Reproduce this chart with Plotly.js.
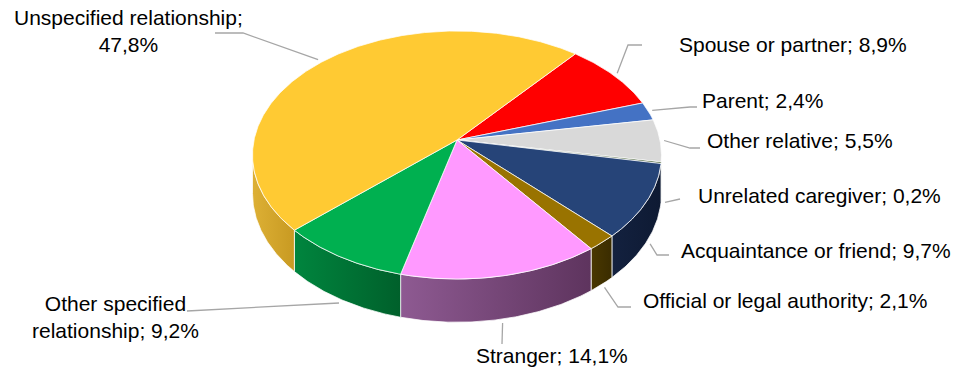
<!DOCTYPE html>
<html>
<head>
<meta charset="utf-8">
<script src="https://cdn.plot.ly/plotly-3.0.1.min.js"></script>
<style>html,body{margin:0;padding:0;background:#fff;}#chart{width:955px;height:374px;}</style>
</head>
<body>
<div id="chart"></div>
<script>
// ---- data ----
const categories = ['Spouse or partner', 'Parent', 'Other relative', 'Unrelated caregiver',
  'Acquaintance or friend', 'Official or legal authority', 'Stranger',
  'Other specified relationship', 'Unspecified relationship'];
const shares = [8.9, 2.4, 5.5, 0.2, 9.7, 2.1, 14.1, 9.2, 47.8];
const labelTexts = ['Spouse or partner; 8,9%', 'Parent; 2,4%', 'Other relative; 5,5%',
  'Unrelated caregiver; 0,2%', 'Acquaintance or friend; 9,7%', 'Official or legal authority; 2,1%',
  'Stranger; 14,1%', 'Other specified<br>relationship; 9,2%', 'Unspecified relationship;<br>47,8%'];

// ---- styles ----
const topColors = ['#FF0000', '#4472C4', '#D9D9D9', '#2E4A1C', '#264478', '#997300', '#FF99FF', '#00B050', '#FFCA33'];
const sideColors = [['#B00000','#B00000'], ['#2F5597','#2F5597'], ['#A6A6A6','#A6A6A6'], ['#1E3311','#1E3311'],
  ['#13213F','#0E1A33'], ['#4A3800','#3A2C00'], ['#8E5A92','#5E345E'], ['#00853E','#00602B'], ['#DDB035','#C89A22']];
// label layout: [x, y, xanchor] and leader-line bends
const labelPos = [[677,44,'left'], [700,100,'left'], [705,140,'left'], [696,195,'left'], [679,250,'left'],
  [641,300,'left'], [552,355,'center'], [115,317,'center'], [128,31,'center']];
const leaderBends = [[[628,45],[642,45]], [[690,107],[697,107]], [[690,148],[700,148]], [[680,199]],
  [[657,255],[669,255]], [[618,307],[631,307]], [[502,344]], [[187,311]], [[243,33],[215,33]]];

// ---- geometry (pseudo-3D pie projected onto pixel axes) ----
const G = {cx: 457, cy: 140, A: 203, B: 122.2, p: 0.121, D: 38, start: -50.4};
function proj(th, drop) {
  const r = th * Math.PI / 180, u = Math.cos(r), v = Math.sin(r), f = 1 / (1 - G.p * v);
  return [G.cx + G.A * u * f, G.cy + G.B * v * f + (drop ? G.D * f : 0)];
}
function arc(a0, a1, drop) {
  const n = Math.max(2, Math.ceil(Math.abs(a1 - a0) / 0.5));
  const pts = [];
  for (let i = 0; i <= n; i++) pts.push(proj(a0 + (a1 - a0) * i / n, drop));
  return pts;
}
const total = shares.reduce((a, b) => a + b, 0);
const bounds = [];
let acc = G.start;
shares.forEach(s => { const a0 = acc; acc += s / total * 360; bounds.push([a0, acc]); });
const wMin = Math.asin(G.p) * 180 / Math.PI, wMax = 180 - wMin;

const traces = [];
const edge = {color: 'rgba(255,255,255,0.75)', width: 1};
// side walls
bounds.forEach(([a0, a1], i) => {
  const b0 = Math.max(a0, wMin), b1 = Math.min(a1, wMax);
  if (b1 <= b0) return;
  const pts = arc(b0, b1, false).concat(arc(b1, b0, true));
  pts.push(pts[0]);
  const t = {x: pts.map(q => q[0]), y: pts.map(q => q[1]), mode: 'lines', fill: 'toself',
    fillcolor: sideColors[i][0], line: edge, hoverinfo: 'skip', showlegend: false, name: categories[i]};
  if (sideColors[i][0] !== sideColors[i][1]) {
    t.fillgradient = {type: 'horizontal', colorscale: [[0, sideColors[i][0]], [1, sideColors[i][1]]]};
  }
  traces.push(t);
});
// top faces
bounds.forEach(([a0, a1], i) => {
  const pts = [[G.cx, G.cy]].concat(arc(a0, a1, false));
  pts.push([G.cx, G.cy]);
  traces.push({x: pts.map(q => q[0]), y: pts.map(q => q[1]), mode: 'lines', fill: 'toself',
    fillcolor: topColors[i], line: edge, hoverinfo: 'text', text: labelTexts[i].replace('<br>', ' '),
    showlegend: false, name: categories[i]});
});

// leader lines and labels
const shapes = [], annotations = [];
bounds.forEach(([a0, a1], i) => {
  const m = (a0 + a1) / 2;
  const onWall = m > wMin && m < wMax;
  const pt = proj(m, onWall);
  const r = m * Math.PI / 180;
  const anchor = [pt[0] + 4 * Math.cos(r), pt[1] + 4 * Math.sin(r)];
  const path = [anchor].concat(leaderBends[i]);
  shapes.push({type: 'path', xref: 'x', yref: 'y', layer: 'above',
    path: 'M' + path.map(q => q[0].toFixed(1) + ',' + q[1].toFixed(1)).join(' L'),
    line: {color: '#A6A6A6', width: 1.3}});
  annotations.push({x: labelPos[i][0], y: labelPos[i][1], xref: 'x', yref: 'y', xanchor: labelPos[i][2],
    yanchor: 'middle', align: 'center', text: labelTexts[i], showarrow: false,
    font: {family: 'Liberation Sans, Arial, sans-serif', size: 21, color: '#000'}});
});

const layout = {
  width: 955, height: 374, margin: {l: 0, r: 0, t: 0, b: 0},
  paper_bgcolor: '#ffffff', plot_bgcolor: '#ffffff',
  xaxis: {range: [0, 955], visible: false, fixedrange: true},
  yaxis: {range: [374, 0], visible: false, fixedrange: true},
  shapes: shapes, annotations: annotations, showlegend: false
};
Plotly.newPlot('chart', traces, layout, {displayModeBar: false, staticPlot: true});
</script>
</body>
</html>
